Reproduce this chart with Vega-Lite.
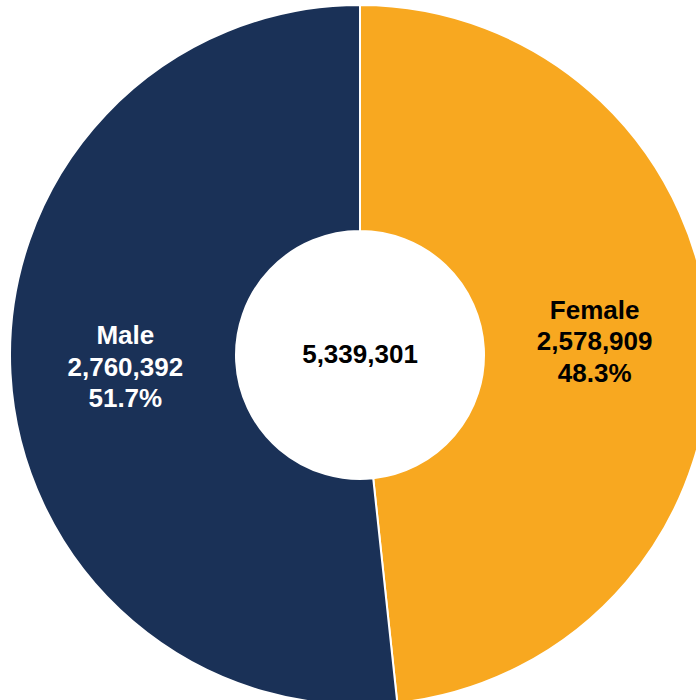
{
  "$schema": "https://vega.github.io/schema/vega-lite/v6.json",
  "width": 720,
  "height": 710,
  "autosize": {"type": "none"},
  "padding": 0,
  "background": "white",
  "view": {"stroke": null},
  "data": {
    "values": [
      {"idx": 1, "gender": "Female", "count": 2578909, "pct": "48.3%"},
      {"idx": 2, "gender": "Male", "count": 2760392, "pct": "51.7%"}
    ]
  },
  "transform": [
    {"calculate": "[datum.gender, format(datum.count, ','), datum.pct]", "as": "label"}
  ],
  "layer": [
    {
      "mark": {"type": "arc", "outerRadius": 350, "innerRadius": 124, "stroke": "white", "strokeWidth": 2},
      "encoding": {
        "theta": {"field": "count", "type": "quantitative", "stack": true},
        "order": {"field": "idx", "type": "quantitative"},
        "color": {
          "field": "gender",
          "type": "nominal",
          "scale": {"domain": ["Female", "Male"], "range": ["#F8A820", "#1A3157"]},
          "legend": null
        }
      }
    },
    {
      "mark": {"type": "text", "radius": 235, "dy": -31.5, "font": "Liberation Sans", "fontWeight": "bold", "fontSize": 26, "lineHeight": 31.5, "baseline": "middle", "align": "center"},
      "encoding": {
        "theta": {"field": "count", "type": "quantitative", "stack": true},
        "order": {"field": "idx", "type": "quantitative"},
        "text": {"field": "label"},
        "color": {"condition": {"test": "datum.gender === 'Male'", "value": "white"}, "value": "black"}
      }
    },
    {
      "data": {"values": [{"total": 5339301}]},
      "mark": {"type": "text", "font": "Liberation Sans", "fontWeight": "bold", "fontSize": 26, "baseline": "middle", "align": "center", "color": "black"},
      "encoding": {
        "text": {"field": "total", "type": "quantitative", "format": ","}
      }
    }
  ]
}
